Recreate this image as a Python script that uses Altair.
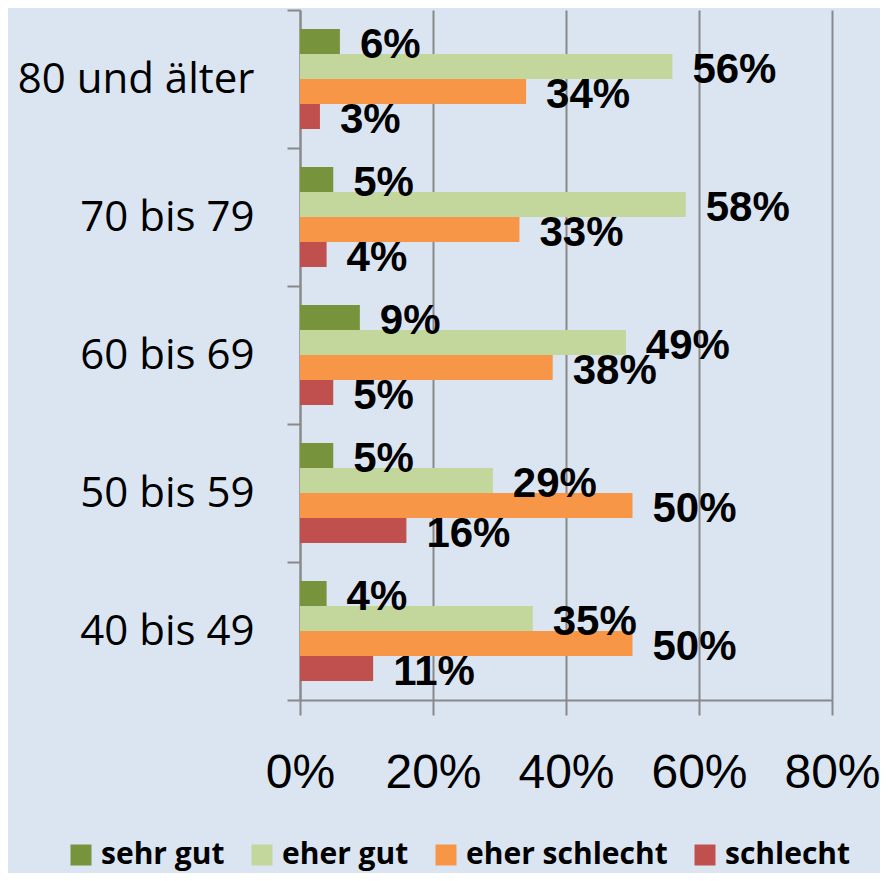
import altair as alt
import pandas as pd

categories = ["80 und älter", "70 bis 79", "60 bis 69", "50 bis 59", "40 bis 49"]
series = ["sehr gut", "eher gut", "eher schlecht", "schlecht"]
colors = ["#77933c", "#c3d69b", "#f79646", "#c0504d"]
sehr_gut = [6, 5, 9, 5, 4]
eher_gut = [56, 58, 49, 29, 35]
eher_schlecht = [34, 33, 38, 50, 50]
schlecht = [3, 4, 5, 16, 11]
x_ticks = [0, 20, 40, 60, 80]

rows = []
for i, c in enumerate(categories):
    for s, vals in zip(series, [sehr_gut, eher_gut, eher_schlecht, schlecht]):
        rows.append({"Alter": c, "Bewertung": s, "Wert": vals[i], "Label": f"{vals[i]}%"})
df = pd.DataFrame(rows)

GRAY = "#898989"

y = alt.Y(
    "Alter:N", sort=categories,
    scale=alt.Scale(paddingInner=0, paddingOuter=0),
    axis=alt.Axis(title=None, tickBand="extent", labelFont="Open Sans", labelFontSize=42,
                  labelColor="black", labelPadding=33, tickSize=13, tickColor=GRAY,
                  tickWidth=2, domainColor=GRAY, domainWidth=2, grid=False, labelLimit=400),
)
yoff = alt.YOffset("Bewertung:N", sort=series, scale=alt.Scale(paddingInner=0, paddingOuter=0.76))
x = alt.X(
    "Wert:Q", scale=alt.Scale(domain=[0, 80], nice=False),
    axis=alt.Axis(values=x_ticks, labelExpr="datum.value + '%'", title=None, grid=True,
                  gridColor=GRAY, gridWidth=2, domainColor=GRAY, domainWidth=2,
                  tickColor=GRAY, tickWidth=2, tickSize=15, labelFont="Liberation Sans",
                  labelFontSize=48, labelColor="black", labelPadding=34, labelFlush=False,
                  labelOverlap=False, labelBound=False),
)
color = alt.Color(
    "Bewertung:N",
    scale=alt.Scale(domain=series, range=colors),
    legend=alt.Legend(title=None, orient="none", legendX=-234, legendY=830, direction="horizontal",
                      symbolType="square", symbolSize=441, symbolStrokeWidth=0,
                      labelFont="Open Sans", labelFontWeight="bold", labelFontSize=30,
                      labelColor="black", labelOffset=5, columnPadding=22, padding=0,
                      labelLimit=400),
)

bars = alt.Chart(df).mark_bar(size=25).encode(y=y, yOffset=yoff, x=x, color=color)
labels = alt.Chart(df).mark_text(
    align="left", baseline="middle", dx=20, dy=3, font="Liberation Sans",
    fontWeight="bold", fontSize=42, color="black"
).encode(y=y, yOffset=yoff, x=x, text="Label:N")

chart = alt.layer(bars, labels).properties(
    width=532, height=690,
    autosize=alt.AutoSizeParams(type="none"),
    padding={"left": 292, "top": 2, "right": 48, "bottom": 173},
).configure(background="#dbe5f1").configure_view(stroke=None)

chart.save("out.html", embed_options={"renderer": "svg", "actions": False})
